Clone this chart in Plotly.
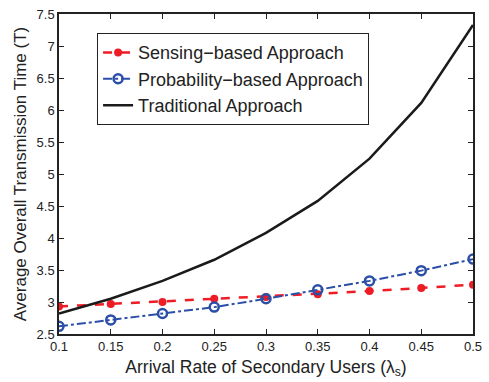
import plotly.graph_objects as go

x_vals = [0.1, 0.15, 0.2, 0.25, 0.3, 0.35, 0.4, 0.45, 0.5]
sensing = [2.93, 2.97, 3.00, 3.05, 3.08, 3.12, 3.17, 3.22, 3.27]
probability = [2.62, 2.72, 2.82, 2.92, 3.05, 3.19, 3.33, 3.49, 3.67]
traditional = [2.82, 3.05, 3.33, 3.66, 4.08, 4.58, 5.24, 6.11, 7.33]

x_ticks = [0.1, 0.15, 0.2, 0.25, 0.3, 0.35, 0.4, 0.45, 0.5]
x_tick_labels = ["0.1", "0.15", "0.2", "0.25", "0.3", "0.35", "0.4", "0.45", "0.5"]
y_ticks = [2.5, 3, 3.5, 4, 4.5, 5, 5.5, 6, 6.5, 7, 7.5]
y_tick_labels = ["2.5", "3", "3.5", "4", "4.5", "5", "5.5", "6", "6.5", "7", "7.5"]

FONT = "Liberation Sans, Arial, sans-serif"

fig = go.Figure()
fig.add_trace(go.Scatter(
    x=x_vals, y=sensing, name="Sensing\u2212based Approach",
    mode="lines+markers",
    line=dict(color="#ee1c25", width=2.5, dash="dash"),
    marker=dict(symbol="circle", size=8, color="#ee1c25"),
))
fig.add_trace(go.Scatter(
    x=x_vals, y=probability, name="Probability\u2212based Approach",
    mode="lines+markers",
    line=dict(color="#2b4fa8", width=2, dash="dashdot"),
    marker=dict(symbol="circle-open", size=9, color="#2b4fa8", line=dict(width=2.5)),
))
fig.add_trace(go.Scatter(
    x=x_vals, y=traditional, name="Traditional Approach",
    mode="lines",
    line=dict(color="#1a1a1a", width=2.5),
))

axis_common = dict(
    showgrid=False, zeroline=False, showline=True, linecolor="#222",
    linewidth=1.5, mirror="ticks", ticks="inside", ticklen=5, tickcolor="#222",
    tickfont=dict(family=FONT, size=13, color="#222"),
)

fig.update_layout(
    width=489, height=382,
    margin=dict(l=59, r=11, t=7, b=48),
    paper_bgcolor="white", plot_bgcolor="white",
    showlegend=True,
    legend=dict(
        x=0.092, y=0.94, xanchor="left", yanchor="top",
        bgcolor="white", bordercolor="#222", borderwidth=1,
        font=dict(family=FONT, size=18, color="#222"),
        tracegroupgap=0, itemwidth=30,
    ),
    xaxis=dict(
        range=[0.1, 0.5], tickvals=x_ticks, ticktext=x_tick_labels,
        title=dict(text="Arrival Rate of Secondary Users (\u03bb<sub>s</sub>)",
                   font=dict(family=FONT, size=17.5, color="#222"),
                   standoff=7),
        **axis_common,
    ),
    yaxis=dict(
        range=[2.5, 7.5], tickvals=y_ticks, ticktext=y_tick_labels,
        title=dict(text="Average Overall Transmission Time (T)",
                   font=dict(family=FONT, size=17, color="#222"),
                   standoff=6),
        **axis_common,
    ),
)

fig.write_html("out.html")
